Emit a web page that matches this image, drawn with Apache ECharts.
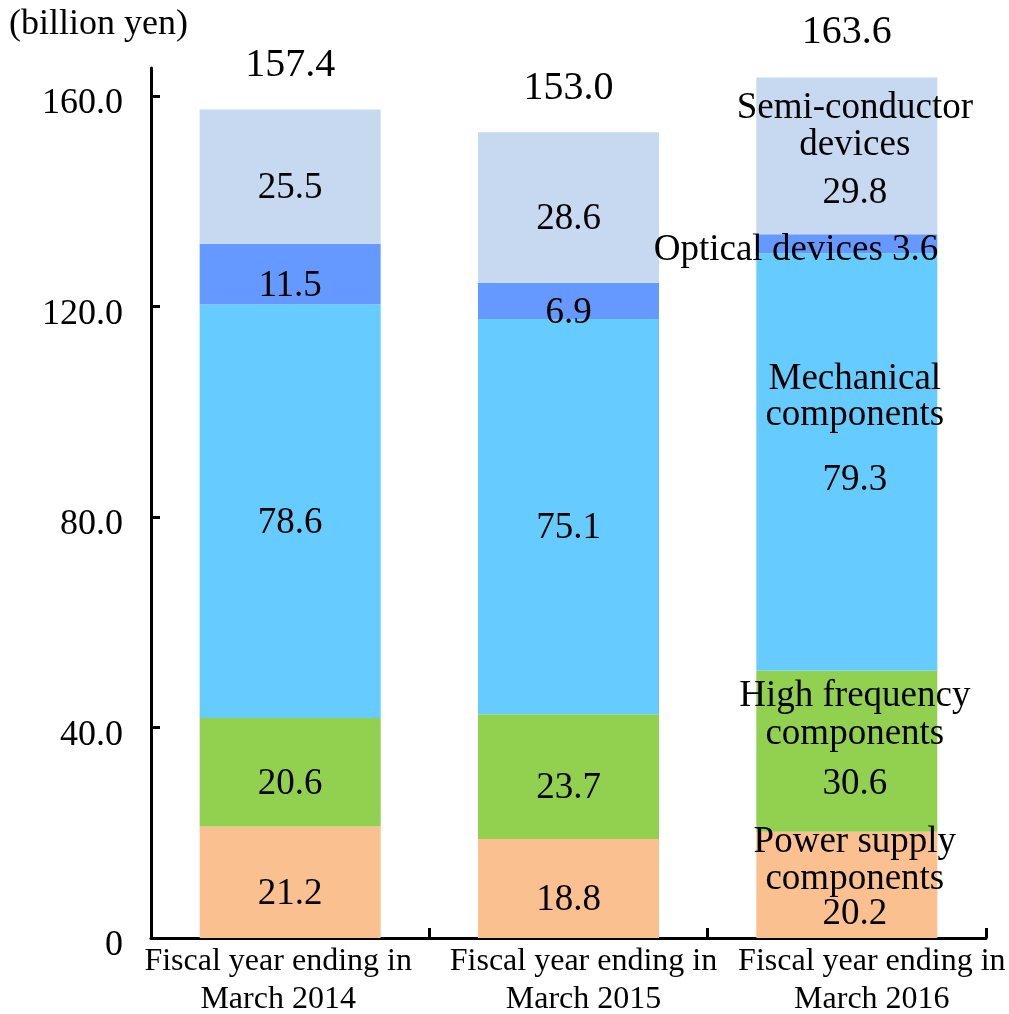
<!DOCTYPE html>
<html>
<head>
<meta charset="utf-8">
<script src="https://cdn.jsdelivr.net/npm/echarts@6/dist/echarts.min.js"></script>
<style>
  html, body { margin: 0; padding: 0; background: #fff; }
  #chart { width: 1009px; height: 1014px; }
</style>
</head>
<body>
<div id="chart"></div>
<script>
// Net sales by segment (billion yen)
const categories = [
  'Fiscal year ending in\nMarch 2014',
  'Fiscal year ending in\nMarch 2015',
  'Fiscal year ending in\nMarch 2016'
];
const powerSupply   = [21.2, 18.8, 20.2];
const highFrequency = [20.6, 23.7, 30.6];
const mechanical    = [78.6, 75.1, 79.3];
const optical       = [11.5, 6.9, 3.6];
const semiconductor = [25.5, 28.6, 29.8];
const totals        = [157.4, 153.0, 163.6];
const yTickValues   = [0, 40, 80, 120, 160];

const FONT = 'Liberation Serif';
const Y_MAX = 165.3;

// Horizontal nudge of each category caption (px, negative = left)
const captionShift = [-12, 15, 25];

// Stacked segment: the last bar also carries the segment name above its value
function segment(name, values, color, last) {
  return {
    name: name.replace('\n', ' '),
    type: 'bar',
    stack: 'sales',
    barWidth: 181,
    itemStyle: { color: color },
    label: {
      show: true,
      position: 'inside',
      offset: [0, 12],
      fontFamily: FONT,
      fontSize: 37,
      color: '#000',
      formatter: p => p.value.toFixed(1)
    },
    data: values.map((v, i) => {
      if (i !== values.length - 1) return v;
      const lines = name.split('\n').map(s => '{n|' + s + '}');
      const text = last.inline
        ? '{n|' + name + ' }{v|' + v.toFixed(1) + '}'
        : lines.join('\n') + '\n{v|' + v.toFixed(1) + '}';
      return {
        value: v,
        label: {
          position: last.position || 'inside',
          distance: 0,
          offset: [last.dx === undefined ? 8 : last.dx, last.dy],
          formatter: text,
          rich: {
            n: { fontFamily: FONT, fontSize: 37, color: '#000', lineHeight: last.nameLH },
            v: { fontFamily: FONT, fontSize: 37, color: '#000', lineHeight: last.valueLH }
          }
        }
      };
    })
  };
}

const chart = echarts.init(document.getElementById('chart'));
chart.setOption({
  animation: false,
  title: {
    text: '(billion yen)',
    left: 4,
    top: 2,
    textStyle: { fontFamily: FONT, fontSize: 36, fontWeight: 'normal', color: '#000' }
  },
  grid: { left: 151, right: 23, top: 68, bottom: 76, outerBoundsMode: 'none' },
  xAxis: {
    type: 'category',
    data: categories.map((c, i) => ({
      value: c,
      textStyle: {
        padding: captionShift[i] < 0
          ? [0, -2 * captionShift[i], 0, 0]
          : [0, 0, 0, 2 * captionShift[i]]
      }
    })),
    axisLine: { lineStyle: { color: '#000', width: 3 } },
    axisTick: { show: true, inside: true, length: 10, lineStyle: { color: '#000', width: 3 } },
    axisLabel: {
      fontFamily: FONT, fontSize: 32, color: '#000',
      lineHeight: 38, margin: 5, interval: 0
    }
  },
  yAxis: {
    type: 'value',
    min: 0,
    max: Y_MAX,
    interval: 40,
    splitLine: { show: false },
    axisLine: { show: true, lineStyle: { color: '#000', width: 3 } },
    axisTick: {
      show: true, inside: true, length: 9,
      customValues: yTickValues.filter(v => v > 0),
      lineStyle: { color: '#000', width: 3 }
    },
    axisLabel: {
      customValues: yTickValues,
      fontFamily: FONT, fontSize: 36, color: '#000',
      margin: 28,
      verticalAlign: 'top',
      lineHeight: 16,
      formatter: v => (v === 0 ? '0' : v.toFixed(1))
    }
  },
  series: [
    segment('Power supply\ncomponents', powerSupply, '#FAC090',
      { nameLH: 37, valueLH: 33, dy: -8 }),
    segment('High frequency\ncomponents', highFrequency, '#92D050',
      { nameLH: 38, valueLH: 62, dy: -5 }),
    segment('Mechanical\ncomponents', mechanical, '#66CCFF',
      { nameLH: 36, valueLH: 93, dy: -18 }),
    segment('Optical devices', optical, '#6699FF',
      { inline: true, position: 'insideRight', dx: 1, nameLH: 40, valueLH: 40, dy: 6 }),
    segment('Semi-conductor\ndevices', semiconductor, '#C6D9F1',
      { nameLH: 37, valueLH: 59, dy: 0 }),
    {
      name: 'Total',
      type: 'scatter',
      symbolSize: 0,
      itemStyle: { opacity: 1 },
      data: totals,
      label: {
        show: true,
        position: 'top',
        distance: 24,
        fontFamily: FONT,
        fontSize: 40,
        color: '#000',
        formatter: p => p.value.toFixed(1)
      },
      z: 5
    }
  ]
});
</script>
</body>
</html>
